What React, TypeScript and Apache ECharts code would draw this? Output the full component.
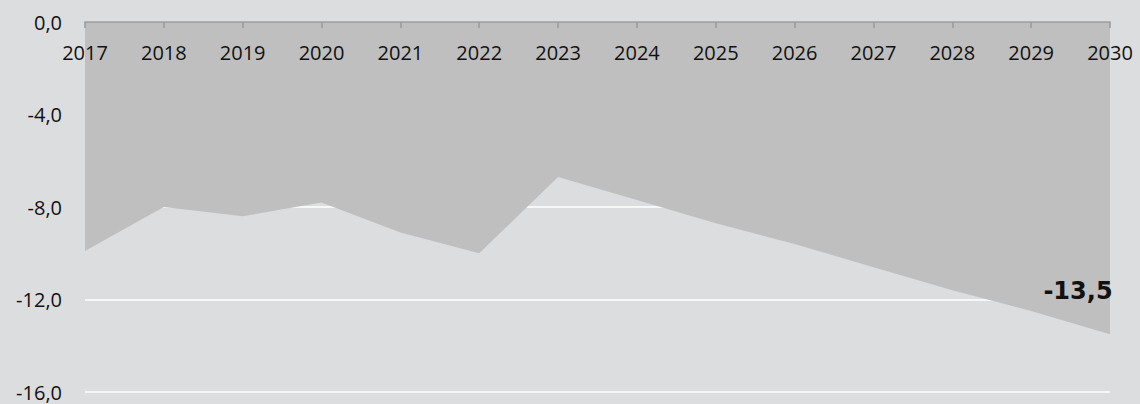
import React, { useEffect, useRef } from "react";
import * as echarts from "echarts";

const years = ["2017", "2018", "2019", "2020", "2021", "2022", "2023", "2024", "2025", "2026", "2027", "2028", "2029", "2030"];
const values = [-9.9, -8.0, -8.4, -7.8, -9.1, -10.0, -6.7, -7.7, -8.7, -9.6, -10.6, -11.6, -12.5, -13.5];
const yMin = -16;
const yMax = 0;
const yInterval = 4;

const fmt = (v: number) => v.toFixed(1).replace(".", ",");

export default function App() {
  const ref = useRef<HTMLDivElement>(null);
  useEffect(() => {
    document.body.style.margin = "0";
    const chart = echarts.init(ref.current!, null, { renderer: "svg" });
    const last = values.length - 1;
    chart.setOption({
      animation: false,
      backgroundColor: "#dcdddf",
      grid: { left: 85, right: 30, top: 22, bottom: 12, containLabel: false, outerBoundsMode: "none" },
      xAxis: {
        type: "category",
        data: years,
        boundaryGap: false,
        position: "top",
        axisLine: { onZero: false, lineStyle: { color: "#9a9a9a", width: 1.5 } },
        axisTick: { show: true, inside: true, length: 6, alignWithLabel: true, lineStyle: { color: "#9a9a9a", width: 1.5 } },
        axisLabel: { inside: true, margin: 20, color: "#111", fontFamily: "Open Sans", fontSize: 20, interval: 0 },
        splitLine: { show: false },
        z: 5,
      },
      yAxis: {
        type: "value",
        min: yMin,
        max: yMax,
        interval: yInterval,
        axisLine: { show: false },
        axisTick: { show: false },
        axisLabel: { margin: 23, color: "#111", fontFamily: "Open Sans", fontSize: 20, formatter: (v: number) => fmt(v) },
        splitLine: { lineStyle: { color: "#ffffff", width: 1.5 } },
      },
      series: [
        {
          type: "line",
          data: values.map((v, i) =>
            i === last
              ? {
                  value: v,
                  label: {
                    show: true,
                    position: "top",
                    offset: [-32, -26],
                    formatter: (p: any) => fmt(p.value),
                    fontFamily: "DejaVu Sans",
                    fontWeight: "bold",
                    fontSize: 24,
                    color: "#111",
                  },
                }
              : v
          ),
          symbol: "circle",
          symbolSize: 0,
          showSymbol: true,
          itemStyle: { color: "#bfbfbf" },
          lineStyle: { width: 0, color: "#bfbfbf" },
          areaStyle: { color: "#bfbfbf", opacity: 1 },
          z: 2,
        },
      ],
    });
    return () => chart.dispose();
  }, []);
  return <div ref={ref} style={{ width: 1140, height: 404 }} />;
}
